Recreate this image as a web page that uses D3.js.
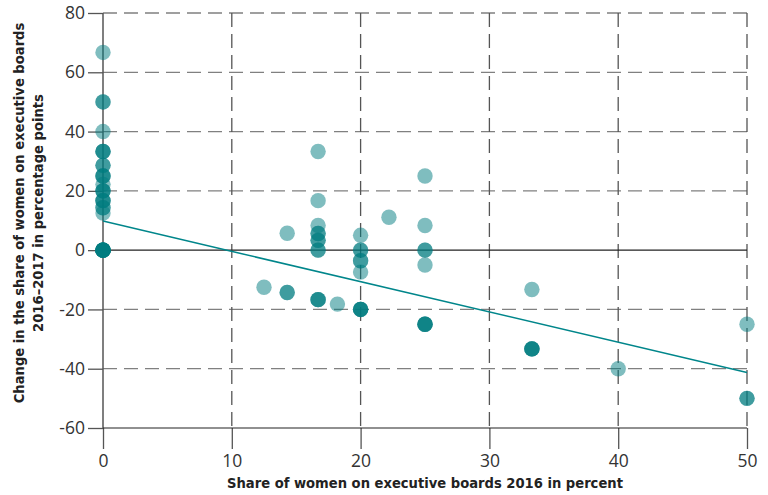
<!DOCTYPE html>
<html lang="en">
<head>
  <meta charset="UTF-8"/>
  <title>Women on executive boards</title>
  <style>
    *{margin:0;padding:0;box-sizing:border-box}
    body{background:#fff;font-family:"DejaVu Sans Condensed",sans-serif}
    svg{display:block}
    .tick text{fill:#333;font-size:17.5px;font-family:"Open Sans",sans-serif}
    .ttl{fill:#222;font-size:14.6px;font-weight:700}
  </style>
</head>
<body>
  <div id="chart"></div>
  <script src="https://d3js.org/d3.v7.min.js"></script>
  <script>
    // share of women 2016 (%) / change 2016-2017 (pp) / how many firms sit on that spot
    const shareX = [0,0,0,0,0,0,0,0,0,0,0,0,
                    12.5,14.3,14.3,16.7,16.7,16.7,16.7,16.7,16.7,16.7,18.2,
                    20,20,20,20,20,22.2,25,25,25,25,25,33.3,33.3,40,50,50];
    const changeY = [66.7,50,40,33.3,28.6,25,22.2,20,16.7,14.3,12.5,0,
                     -12.5,5.7,-14.3,33.3,16.7,8.3,5.6,3.3,0,-16.7,-18.2,
                     5,0,-3.6,-7.4,-20,11.1,25,8.3,0,-5,-25,-13.3,-33.3,-40,-25,-50];
    const counts = [1,2,1,3,2,3,1,3,3,2,1,10,
                    1,1,2,1,1,1,2,2,2,3,1,
                    1,2,2,1,4,1,1,1,2,1,4,1,4,1,1,2];

    // fitted line end points
    const fitX = [0, 50];
    const fitY = [9.8, -41.3];

    const xTicks = [0,10,20,30,40,50];
    const yTicks = [-60,-40,-20,0,20,40,60,80];

    const W = 768, H = 495;
    const m = {l:103, r:21, t:13, b:67};

    const svg = d3.select('#chart').append('svg')
      .attr('width', W).attr('height', H);

    const x = d3.scaleLinear().domain([0,50]).range([m.l, W-m.r]);
    const y = d3.scaleLinear().domain([-60,80]).range([H-m.b, m.t]);

    // horizontal grid
    svg.append('g').selectAll('line')
      .data(yTicks.filter(v => v!==0 && v!==-60))
      .join('line')
      .attr('x1', x(0)).attr('x2', x(50))
      .attr('y1', d=>y(d)).attr('y2', d=>y(d))
      .attr('stroke','#808080').attr('stroke-width',1.3)
      .attr('stroke-dasharray','14,7');

    // vertical grid
    svg.append('g').selectAll('line')
      .data(xTicks.filter(v => v!==0))
      .join('line')
      .attr('x1', d=>x(d)).attr('x2', d=>x(d))
      .attr('y1', y(80)).attr('y2', y(-60))
      .attr('stroke','#555').attr('stroke-width',1.3)
      .attr('stroke-dasharray','14,7');

    // axes
    const yAxis = svg.append('g')
      .attr('transform',`translate(${x(0)},0)`)
      .call(d3.axisLeft(y).tickValues(yTicks).tickSize(15).tickPadding(3)
        .tickFormat(d => String(d)));
    yAxis.select('.domain').remove();
    yAxis.selectAll('.tick line').attr('stroke','#555').attr('stroke-width',1.3);

    const xAxis = svg.append('g')
      .attr('transform',`translate(0,${y(-60)})`)
      .call(d3.axisBottom(x).tickValues(xTicks).tickSize(21).tickPadding(6)
        .tickFormat(d => String(d)));
    xAxis.select('.domain').remove();
    xAxis.selectAll('.tick line').attr('stroke','#555').attr('stroke-width',1.3);

    svg.append('line')
      .attr('x1',x(0)).attr('x2',x(0)).attr('y1',y(80)).attr('y2',y(-60))
      .attr('stroke','#555').attr('stroke-width',1.5);
    svg.append('line')
      .attr('x1',x(0)).attr('x2',x(50)).attr('y1',y(0)).attr('y2',y(0))
      .attr('stroke','#222').attr('stroke-width',1.2);
    svg.append('line')
      .attr('x1',x(0)).attr('x2',x(50)).attr('y1',y(-60)).attr('y2',y(-60))
      .attr('stroke','#222').attr('stroke-width',1.2);

    // points, repeated where several firms coincide
    const pts = [];
    shareX.forEach((v,i) => { for(let k=0;k<counts[i];k++) pts.push([v, changeY[i]]); });
    svg.append('g').selectAll('circle')
      .data(pts)
      .join('circle')
      .attr('cx', d=>x(d[0])).attr('cy', d=>y(d[1]))
      .attr('r', 7.7)
      .attr('fill','#007b80')
      .attr('fill-opacity',0.5);

    // regression line
    svg.append('line')
      .attr('x1',x(fitX[0])).attr('y1',y(fitY[0]))
      .attr('x2',x(fitX[1])).attr('y2',y(fitY[1]))
      .attr('stroke','#00868b').attr('stroke-width',1.5);

    // titles
    svg.append('text').attr('class','ttl')
      .attr('x',(x(0)+x(50))/2).attr('y',488)
      .attr('text-anchor','middle')
      .text('Share of women on executive boards 2016 in percent');

    const yt = svg.append('text').attr('class','ttl')
      .attr('transform','translate(24,213) rotate(-90)')
      .attr('text-anchor','middle');
    yt.append('tspan').attr('x',0).attr('dy',0)
      .text('Change in the share of women on executive boards');
    yt.append('tspan').attr('x',0).attr('dy',19)
      .text('2016–2017 in percentage points');
  </script>
</body>
</html>
